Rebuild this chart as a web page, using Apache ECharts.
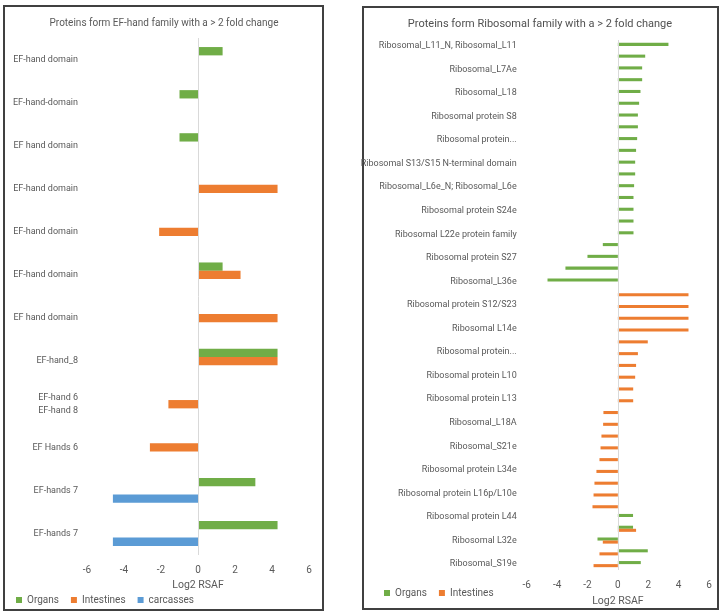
<!DOCTYPE html>
<html><head><meta charset="utf-8">
<script src="https://cdn.jsdelivr.net/npm/echarts@6/dist/echarts.min.js"></script>
<style>html,body{margin:0;padding:0;background:#fff}#c{width:727px;height:615px}</style>
</head><body><div id="c"></div>
<script>
// ---- Left chart: EF-hand family ----
const efCategories = ['EF-hand domain','EF-hand-domain','EF hand domain','EF-hand domain','EF-hand domain','EF-hand domain','EF hand domain','EF-hand_8','EF-hand 6\nEF-hand 8','EF Hands 6','EF-hands 7','EF-hands 7'];
const efOrgans     = [1.33, -1.0, -1.0, null, null, 1.33, null, 4.3, null, null, 3.1, 4.3];
const efIntestines = [null, null, null, 4.3, -2.1, 2.3, 4.3, 4.3, -1.6, -2.6, null, null];
const efCarcasses  = [null, null, null, null, null, null, null, null, null, null, -4.6, -4.6];

// ---- Right chart: Ribosomal family (every other label is hidden in the original) ----
const ribCategories = [
  'Ribosomal_L11_N, Ribosomal_L11','', 'Ribosomal_L7Ae','', 'Ribosomal_L18','', 'Ribosomal protein S8','',
  'Ribosomal protein...','', 'Ribosomal S13/S15 N-terminal domain','', 'Ribosomal_L6e_N; Ribosomal_L6e','',
  'Ribosomal protein S24e','', 'Ribosomal L22e protein family','', 'Ribosomal protein S27','', 'Ribosomal_L36e','',
  'Ribosomal protein S12/S23','', 'Ribosomal L14e','', 'Ribosomal protein...','', 'Ribosomal protein L10','',
  'Ribosomal protein L13','', 'Ribosomal_L18A','', 'Ribosomal_S21e','', 'Ribosomal protein L34e','',
  'Ribosomal protein L16p/L10e','', 'Ribosomal protein L44','', 'Ribosomal L32e','', 'Ribosomal_S19e'
];
const ribOrgans = [3.33,1.8,1.6,1.6,1.49,1.4,1.32,1.32,1.27,1.2,1.14,1.14,1.07,1.03,1.03,1.03,1.03,-0.99,-2.0,-3.45,-4.63,
  null,null,null,null,null,null,null,null,null,null,null,null,null,null,null,null,null,null,null,
  1.0,1.0,-1.34,1.97,1.51];
const ribIntestines = [null,null,null,null,null,null,null,null,null,null,null,null,null,null,null,null,null,null,null,null,null,
  4.65,4.65,4.65,4.65,1.97,1.32,1.2,1.14,1.01,1.01,-0.95,-0.97,-1.08,-1.14,-1.21,-1.41,-1.54,-1.6,-1.67,
  null,1.2,-0.99,-1.21,-1.6];

const xMin = -6, xMax = 6, xStep = 2;
const seriesNames = ['Organs','Intestines','carcasses'];
const colors = {Organs:'#70AD47', Intestines:'#ED7D31', carcasses:'#5B9BD5'};

const font = "Roboto,sans-serif";
const txt = '#595959';
const zeroLine = {silent:true, symbol:'none', label:{show:false}, lineStyle:{color:'#d9d9d9', width:1, type:'solid'}, data:[{xAxis:0}]};

function xAx(grid, margin, gap){
  return {gridIndex:grid, type:'value', min:xMin, max:xMax, interval:xStep,
    axisLine:{show:false}, axisTick:{show:false}, splitLine:{show:false},
    axisLabel:{color:txt, fontSize:10, margin:margin, fontFamily:font},
    name:'Log2 RSAF', nameLocation:'middle', nameGap:gap,
    nameTextStyle:{color:txt, fontSize:10.5, fontFamily:font}};
}
function yAx(grid, cats, margin){
  return {gridIndex:grid, type:'category', data:cats, inverse:true,
    axisLine:{show:false}, axisTick:{show:false}, splitLine:{show:false},
    axisLabel:{color:txt, fontSize:9, margin:margin, interval:0, lineHeight:13, fontFamily:font}};
}
function bar(name, grid, data, gapCat, withZero){
  const s = {type:'bar', name:name, xAxisIndex:grid, yAxisIndex:grid, data:data,
    itemStyle:{color:colors[name]}, barGap:'0%', barCategoryGap:gapCat};
  if (withZero) s.markLine = zeroLine;
  return s;
}

const chart = echarts.init(document.getElementById('c'), null, {renderer:'canvas'});
chart.setOption({
  animation:false,
  textStyle:{fontFamily:font},
  grid:[
    {left:87, right:418, top:38, bottom:60},
    {left:526.7, right:18, top:40, bottom:45}
  ],
  xAxis:[xAx(0, 10, 25), xAx(1, 10, 26)],
  yAxis:[yAx(0, efCategories, 9), yAx(1, ribCategories, 10)],
  legend:[
    {data:seriesNames, left:16, top:595, padding:0, itemWidth:6, itemHeight:6, itemGap:12, icon:'rect',
      textStyle:{color:txt, fontSize:10, fontFamily:font}},
    {data:['Organs','Intestines'], left:384, top:588, padding:0, itemWidth:6, itemHeight:6, itemGap:12, icon:'rect',
      textStyle:{color:txt, fontSize:10, fontFamily:font}}
  ],
  series:[
    bar('Organs', 0, efOrgans, '42%', true),
    bar('Intestines', 0, efIntestines, '42%', false),
    bar('carcasses', 0, efCarcasses, '42%', false),
    bar('Organs', 1, ribOrgans, '48%', true),
    bar('Intestines', 1, ribIntestines, '48%', false)
  ],
  graphic:[
    {type:'rect', silent:true, shape:{x:4, y:6, width:319, height:604}, style:{fill:'none', stroke:'#404040', lineWidth:2}},
    {type:'rect', silent:true, shape:{x:363, y:7, width:355, height:602}, style:{fill:'none', stroke:'#404040', lineWidth:2}},
    {type:'text', silent:true, x:164, y:23, style:{text:'Proteins form EF-hand family with a > 2 fold change', fill:txt, font:"10px "+font, textAlign:'center', textVerticalAlign:'middle'}},
    {type:'text', silent:true, x:540, y:24, style:{text:'Proteins form Ribosomal family with a > 2 fold change', fill:'#505050', font:"11px "+font, textAlign:'center', textVerticalAlign:'middle'}}
  ]
});
</script></body></html>
